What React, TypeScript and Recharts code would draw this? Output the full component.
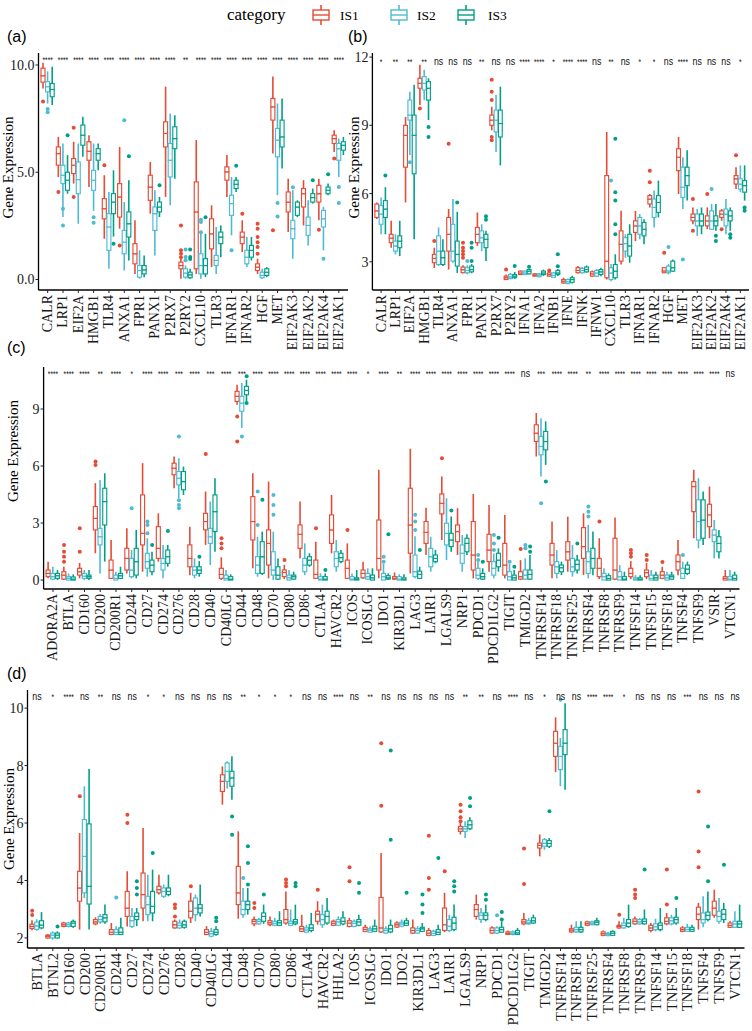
import React from 'react';
import { ComposedChart, Bar, Line, XAxis, YAxis, Label } from 'recharts';

const GROUPS = ['IS1', 'IS2', 'IS3'];
const COLORS = ['#E64B35', '#4DBBD5', '#00A087'];
const SERIF = '"Liberation Serif", "Times New Roman", Times, serif';
const SANS = '"Liberation Sans", Arial, Helvetica, sans-serif';

// ---------------- Panel (a) ----------------
const aCats = ['CALR', 'LRP1', 'EIF2A', 'HMGB1', 'TLR4', 'ANXA1', 'FPR1', 'PANX1', 'P2RX7', 'P2RY2', 'CXCL10', 'TLR3', 'IFNAR1', 'IFNAR2', 'HGF', 'MET', 'EIF2AK3', 'EIF2AK2', 'EIF2AK4', 'EIF2AK1'];
const aSig = ['****', '****', '****', '****', '****', '****', '****', '****', '****', '**', '****', '****', '****', '****', '****', '****', '****', '****', '****', '****'];
const aTicks = [0, 5, 10];
// [min, q1, median, q3, max]
const aIS1 = [[8.9, 9.2, 9.5, 9.85, 10.1], [4.78, 5.33, 5.87, 6.18, 6.65], [4.47, 4.94, 5.33, 5.64, 6.42], [4.31, 5.56, 5.98, 6.42, 6.73], [1.9, 2.83, 3.3, 3.77, 4.86], [2.37, 2.91, 3.85, 4.47, 6.18], [0.26, 0.73, 1.2, 1.67, 2.76], [3.07, 3.69, 4.31, 4.86, 5.48], [3.85, 6.18, 6.81, 7.35, 8.99], [0.03, 0.5, 0.65, 0.81, 0.97], [0.26, 0.5, 3.15, 4.55, 6.5], [0.58, 1.43, 2.13, 2.83, 3.46], [3.85, 4.63, 5.02, 5.25, 5.8], [1.28, 1.67, 1.98, 2.21, 2.76], [0.26, 0.42, 0.58, 0.73, 0.97], [5.87, 7.43, 8.05, 8.44, 9.46], [2.21, 3.15, 3.61, 4.08, 4.7], [2.52, 3.38, 4.0, 4.24, 4.63], [2.76, 3.61, 4.0, 4.39, 4.7], [5.95, 6.34, 6.57, 6.73, 6.96]];
const aIS2 = [[8.2, 8.75, 8.99, 9.22, 9.7], [2.91, 4.47, 4.86, 5.33, 6.34], [2.6, 4.0, 4.66, 5.48, 6.34], [3.2, 4.16, 4.63, 5.09, 6.34], [0.5, 1.36, 2.45, 3.07, 4.08], [0.42, 1.2, 1.74, 2.29, 3.61], [0.03, 0.11, 0.42, 0.65, 1.36], [1.12, 2.29, 3.07, 3.38, 4.16], [3.46, 4.78, 5.56, 6.34, 7.74], [0.03, 0.11, 0.3, 0.5, 0.65], [0.03, 0.26, 0.65, 1.2, 2.13], [0.26, 0.65, 0.89, 1.12, 2.45], [2.06, 2.99, 3.54, 3.93, 4.78], [0.58, 0.73, 1.04, 1.36, 1.98], [0.03, 0.08, 0.19, 0.34, 0.5], [3.93, 5.72, 6.5, 7.04, 8.21], [0.97, 1.9, 2.37, 2.76, 4.16], [1.59, 2.06, 2.52, 2.91, 3.69], [1.36, 2.45, 2.83, 3.22, 3.38], [4.78, 5.56, 6.1, 6.34, 6.57]];
const aIS3 = [[8.13, 8.52, 8.86, 9.14, 9.92], [4.0, 4.16, 4.63, 5.0, 5.8], [5.72, 6.26, 6.73, 7.2, 7.59], [5.09, 5.56, 5.87, 6.1, 6.34], [2.0, 3.07, 3.61, 4.0, 5.09], [0.89, 1.98, 2.6, 3.15, 4.63], [0.11, 0.26, 0.45, 0.65, 1.12], [2.91, 3.15, 3.38, 3.61, 3.85], [4.7, 6.1, 6.57, 7.12, 7.66], [0.03, 0.08, 0.22, 0.34, 0.5], [0.11, 0.26, 0.65, 0.97, 2.13], [1.04, 1.67, 1.98, 2.21, 2.52], [4.08, 4.24, 4.44, 4.63, 4.78], [0.89, 1.04, 1.36, 1.59, 1.98], [0.11, 0.19, 0.34, 0.5, 0.58], [5.17, 6.18, 6.65, 7.43, 8.44], [2.91, 2.99, 3.38, 3.61, 3.69], [3.54, 3.61, 3.82, 4.0, 4.24], [3.93, 4.0, 4.16, 4.31, 4.47], [5.8, 6.03, 6.26, 6.42, 6.65]];
const aOut1 = [[8.3], [4.08], [7.07, 3.85], [], [5.33], [1.59], [], [], [], [2.52, 1.36, 1.2, 1.04], [], [], [], [3.07], [2.6, 2.37, 1.98, 1.74, 1.51, 1.2], [2.29], [], [], [2.32], [5.64]];
const aOut2 = [[7.95, 7.8], [3.3, 2.52], [], [2.9, 2.65], [], [7.43], [], [], [], [1.4, 1.05, 0.9], [2.79, 2.68, 2.2], [], [1.36], [], [], [3.57, 2.94], [4.3], [], [0.97], [4.31, 3.57]];
const aOut3 = [[], [6.73], [], [], [1.67], [5.75], [], [4.39], [], [1.4, 1.05, 0.95], [2.9], [], [5.3], [], [], [], [], [4.63], [4.91], []];

// ---------------- Panel (b) ----------------
const bCats = ['CALR', 'LRP1', 'EIF2A', 'HMGB1', 'TLR4', 'ANXA1', 'FPR1', 'PANX1', 'P2RX7', 'P2RY2', 'IFNA1', 'IFNA2', 'IFNB1', 'IFNE', 'IFNK', 'IFNW1', 'CXCL10', 'TLR3', 'IFNAR1', 'IFNAR2', 'HGF', 'MET', 'EIF2AK3', 'EIF2AK2', 'EIF2AK4', 'EIF2AK1'];
const bSig = ['*', '**', '**', '**', 'ns', 'ns', 'ns', '**', 'ns', 'ns', '****', '****', '*', '****', '****', 'ns', '**', 'ns', '*', '*', 'ns', '****', 'ns', 'ns', 'ns', '*'];
const bTicks = [3, 6, 9, 12];
const bIS1 = [[4.88, 4.95, 5.24, 5.54, 5.61], [3.62, 3.84, 4.04, 4.21, 4.8], [5.61, 7.16, 8.56, 9.0, 9.37], [9.89, 10.63, 10.85, 11.07, 11.66], [2.73, 2.96, 3.15, 3.33, 3.62], [2.66, 3.47, 4.21, 4.95, 5.32], [2.5, 2.52, 2.65, 2.77, 2.85], [3.7, 3.84, 4.21, 4.51, 5.17], [8.78, 9.0, 9.23, 9.45, 9.82], [2.2, 2.22, 2.3, 2.37, 2.44], [2.42, 2.44, 2.51, 2.59, 2.62], [2.34, 2.37, 2.41, 2.47, 2.51], [2.34, 2.37, 2.44, 2.51, 2.55], [2.04, 2.07, 2.15, 2.22, 2.3], [2.48, 2.52, 2.62, 2.74, 2.81], [2.33, 2.37, 2.47, 2.56, 2.62], [2.22, 2.3, 3.03, 6.79, 8.71], [2.88, 3.03, 3.77, 4.36, 5.24], [3.91, 4.29, 4.58, 4.8, 5.24], [5.39, 5.54, 5.76, 5.91, 5.98], [2.52, 2.52, 2.6, 2.74, 2.74], [5.98, 7.01, 7.6, 7.97, 8.49], [4.65, 4.8, 4.95, 5.1, 5.39], [4.43, 4.58, 4.8, 5.02, 5.39], [4.8, 4.95, 5.1, 5.24, 5.32], [6.2, 6.42, 6.65, 6.79, 7.16]];
const bIS2 = [[4.21, 4.65, 5.1, 5.47, 5.83], [3.32, 3.47, 3.7, 3.91, 4.21], [7.7, 9.23, 9.45, 10.11, 10.48], [10.11, 10.55, 10.85, 11.14, 11.44], [2.81, 2.88, 3.47, 4.14, 4.51], [2.96, 3.03, 3.47, 4.65, 5.76], [2.45, 2.52, 2.62, 2.74, 2.85], [3.47, 3.84, 4.06, 4.36, 4.65], [7.83, 8.71, 9.23, 9.67, 10.33], [2.22, 2.27, 2.34, 2.44, 2.51], [2.42, 2.44, 2.51, 2.59, 2.62], [2.32, 2.34, 2.41, 2.47, 2.51], [2.3, 2.32, 2.41, 2.51, 2.55], [2.02, 2.04, 2.12, 2.22, 2.27], [2.48, 2.52, 2.62, 2.71, 2.78], [2.33, 2.37, 2.51, 2.62, 2.68], [2.15, 2.22, 2.51, 2.74, 2.9], [3.18, 3.47, 3.8, 4.06, 4.21], [3.99, 4.21, 4.58, 4.95, 5.1], [4.51, 4.95, 5.39, 5.76, 6.13], [2.45, 2.52, 2.6, 2.81, 2.9], [5.32, 5.83, 6.28, 7.16, 7.6], [4.14, 4.58, 4.8, 5.1, 5.32], [4.43, 4.43, 4.8, 5.24, 5.54], [4.21, 4.58, 5.1, 5.32, 5.76], [6.06, 6.2, 6.42, 6.65, 7.24]];
const bIS3 = [[4.21, 4.95, 5.32, 5.69, 6.28], [3.25, 3.62, 3.91, 4.14, 4.8], [3.99, 6.87, 8.56, 9.45, 10.78], [9.23, 10.11, 10.63, 10.92, 11.07], [2.81, 2.88, 3.18, 3.47, 3.99], [2.51, 2.81, 3.33, 3.91, 5.2], [2.5, 2.56, 2.66, 2.81, 2.9], [3.03, 3.62, 3.99, 4.21, 4.36], [7.24, 8.49, 9.08, 9.67, 10.7], [2.25, 2.3, 2.37, 2.44, 2.55], [2.44, 2.47, 2.59, 2.66, 2.7], [2.38, 2.44, 2.51, 2.59, 2.66], [2.38, 2.44, 2.51, 2.62, 2.68], [2.05, 2.1, 2.22, 2.3, 2.39], [2.52, 2.56, 2.66, 2.77, 2.84], [2.37, 2.44, 2.56, 2.66, 2.74], [2.22, 2.3, 2.59, 2.88, 3.33], [2.96, 3.25, 3.7, 4.21, 4.65], [3.77, 4.14, 4.43, 4.73, 4.87], [4.95, 5.17, 5.61, 5.91, 6.57], [2.55, 2.59, 2.74, 3.03, 3.1], [5.69, 6.35, 6.79, 7.16, 7.9], [4.21, 4.58, 4.8, 5.1, 5.39], [4.36, 4.58, 4.8, 5.02, 5.54], [4.36, 4.8, 5.02, 5.24, 5.39], [5.69, 6.06, 6.35, 6.57, 7.24]];
const bOut1 = [[], [], [], [9.74], [3.91], [8.19], [3.84, 3.62, 3.47, 3.33, 3.18], [], [11.0, 10.48, 10.11, 8.49, 8.34], [2.66], [], [], [2.62], [], [], [], [], [], [], [7.0, 6.5], [3.4], [], [5.76, 4.36], [5.98], [4.43], [7.68]];
const bOut2 = [[], [], [7.38], [], [], [], [3.03], [], [], [], [], [], [], [], [], [], [6.57], [], [], [], [3.65], [3.1], [], [6.2], [], []];
const bOut3 = [[6.79], [], [], [8.93, 8.49], [], [5.61], [3.84, 3.62, 3.03], [5.0, 4.85], [], [2.81], [2.78], [], [3.33, 2.8], [], [], [], [8.41, 6.06, 5.69, 4.65, 4.21], [], [], [], [], [], [], [4.14, 3.91], [4.21, 4.06], [5.39, 5.24]];

// ---------------- Panel (c) ----------------
const cCats = ['ADORA2A', 'BTLA', 'CD160', 'CD200', 'CD200R1', 'CD244', 'CD27', 'CD274', 'CD276', 'CD28', 'CD40', 'CD40LG', 'CD44', 'CD48', 'CD70', 'CD80', 'CD86', 'CTLA4', 'HAVCR2', 'ICOS', 'ICOSLG', 'IDO1', 'KIR3DL1', 'LAG3', 'LAIR1', 'LGALS9', 'NRP1', 'PDCD1', 'PDCD1LG2', 'TIGIT', 'TMIGD2', 'TNFRSF14', 'TNFRSF18', 'TNFRSF25', 'TNFRSF4', 'TNFRSF8', 'TNFRSF9', 'TNFSF14', 'TNFSF15', 'TNFSF18', 'TNFSF4', 'TNFSF9', 'VSIR', 'VTCN1'];
const cSig = ['****', '****', '****', '**', '****', '*', '****', '****', '***', '****', '***', '****', '***', '****', '****', '****', '****', '****', '****', '****', '*', '****', '**', '****', '****', '****', '****', '****', '****', '****', 'ns', '***', '****', '****', '**', '****', '****', '****', '****', '****', '****', '****', '****', 'ns'];
const cTicks = [0, 3, 6, 9];
const cIS1 = [[0.09, 0.18, 0.35, 0.53, 0.97], [0.0, 0.05, 0.26, 0.44, 0.7], [0.09, 0.26, 0.44, 0.62, 0.9], [1.41, 2.64, 3.25, 3.87, 5.1], [0.05, 0.09, 0.53, 1.05, 2.11], [0.35, 0.53, 1.14, 1.67, 2.72], [0.44, 1.85, 2.46, 4.48, 6.15], [0.97, 1.14, 1.67, 2.81, 3.51], [4.83, 5.54, 5.89, 6.15, 6.5], [0.26, 0.7, 1.14, 1.85, 2.81], [1.85, 2.64, 3.08, 3.51, 4.66], [0.0, 0.09, 0.3, 0.62, 1.2], [9.23, 9.4, 9.67, 9.93, 10.28], [0.62, 2.11, 3.08, 4.39, 5.62], [0.09, 0.79, 1.93, 2.64, 5.18], [0.05, 0.18, 0.4, 0.53, 0.8], [1.14, 1.67, 2.41, 2.9, 4.13], [0.05, 0.09, 0.3, 1.05, 2.02], [1.41, 1.93, 2.64, 3.43, 4.48], [0.05, 0.09, 0.62, 1.05, 1.93], [0.05, 0.12, 0.35, 0.53, 0.97], [0.09, 0.53, 1.14, 3.16, 5.8], [0.0, 0.05, 0.09, 0.18, 0.4], [0.35, 1.41, 2.9, 4.83, 6.91], [1.32, 1.93, 2.51, 3.08, 3.81], [2.11, 3.48, 4.04, 4.53, 5.45], [1.32, 2.02, 2.55, 2.9, 3.78], [0.09, 0.53, 1.32, 3.08, 4.53], [0.44, 0.97, 1.58, 2.41, 3.95], [0.09, 0.26, 0.79, 1.93, 3.43], [0.0, 0.05, 0.18, 0.44, 1.05], [6.5, 7.29, 7.73, 8.17, 8.79], [0.09, 0.79, 1.32, 1.93, 3.08], [0.44, 1.05, 1.49, 2.02, 3.34], [0.26, 1.14, 1.76, 2.76, 3.51], [0.05, 0.18, 0.62, 1.14, 2.2], [0.0, 0.05, 0.53, 2.2, 3.29], [0.05, 0.18, 0.35, 0.62, 1.0], [0.05, 0.18, 0.39, 0.53, 0.9], [0.05, 0.09, 0.26, 0.44, 0.7], [0.26, 0.53, 0.97, 1.32, 2.11], [2.2, 3.6, 4.92, 5.18, 5.8], [2.2, 2.81, 3.43, 3.99, 4.92], [0.0, 0.0, 0.09, 0.18, 0.53]];
const cIS2 = [[0.0, 0.05, 0.18, 0.35, 0.7], [0.0, 0.0, 0.09, 0.18, 0.35], [0.0, 0.09, 0.21, 0.35, 0.53], [0.35, 1.85, 2.28, 2.72, 5.27], [0.0, 0.0, 0.09, 0.26, 0.44], [0.09, 0.18, 0.53, 1.14, 1.58], [0.18, 0.62, 0.97, 1.41, 2.2], [0.09, 0.53, 0.88, 1.14, 1.85], [4.31, 5.01, 5.36, 5.71, 6.41], [0.09, 0.26, 0.53, 0.7, 1.14], [0.79, 1.93, 2.28, 2.72, 4.13], [0.0, 0.0, 0.09, 0.26, 0.53], [8.0, 8.88, 9.31, 9.67, 10.37], [0.18, 0.35, 0.79, 1.23, 2.28], [0.0, 0.26, 0.53, 1.49, 2.55], [0.0, 0.0, 0.12, 0.26, 0.53], [0.26, 0.44, 0.79, 1.14, 1.93], [0.0, 0.0, 0.05, 0.18, 0.35], [0.44, 0.7, 1.14, 1.49, 2.11], [0.0, 0.0, 0.05, 0.18, 0.35], [0.0, 0.05, 0.18, 0.35, 0.62], [0.0, 0.0, 0.18, 0.35, 0.85], [0.0, 0.0, 0.05, 0.18, 0.3], [0.09, 0.18, 0.44, 1.32, 2.3], [0.44, 0.7, 1.23, 1.67, 2.28], [1.05, 1.85, 2.46, 2.99, 4.31], [0.44, 0.88, 1.41, 1.85, 2.37], [0.0, 0.09, 0.26, 0.62, 0.95], [0.09, 0.26, 0.62, 0.97, 1.4], [0.0, 0.0, 0.18, 0.44, 0.85], [0.0, 0.05, 0.26, 0.53, 1.14], [5.45, 6.59, 7.03, 7.56, 8.52], [0.09, 0.35, 0.7, 0.97, 1.58], [0.18, 0.44, 0.7, 1.14, 1.85], [0.09, 0.35, 0.97, 1.49, 2.91], [0.0, 0.0, 0.18, 0.35, 0.62], [0.0, 0.0, 0.18, 0.44, 0.79], [0.0, 0.0, 0.05, 0.12, 0.26], [0.0, 0.0, 0.09, 0.26, 0.53], [0.0, 0.0, 0.12, 0.26, 0.44], [0.05, 0.09, 0.35, 0.62, 0.97], [1.67, 2.11, 3.08, 4.22, 5.36], [1.14, 2.02, 2.37, 2.64, 3.16], [0.0, 0.0, 0.05, 0.18, 0.53]];
const cIS3 = [[0.0, 0.09, 0.23, 0.35, 0.53], [0.0, 0.0, 0.05, 0.16, 0.3], [0.0, 0.09, 0.18, 0.26, 0.53], [0.97, 2.9, 4.13, 4.83, 5.62], [0.05, 0.09, 0.23, 0.35, 0.7], [0.09, 0.26, 0.97, 1.67, 2.64], [0.26, 0.44, 0.79, 1.05, 1.49], [0.7, 0.88, 1.23, 1.58, 1.85], [4.48, 4.75, 5.18, 5.71, 5.97], [0.18, 0.35, 0.53, 0.7, 1.0], [1.49, 2.55, 3.6, 4.48, 5.36], [0.0, 0.0, 0.05, 0.18, 0.3], [9.4, 9.75, 9.98, 10.19, 10.54], [0.26, 0.35, 1.23, 2.02, 2.55], [0.0, 0.05, 0.26, 0.7, 1.14], [0.0, 0.05, 0.18, 0.26, 0.44], [0.7, 0.79, 1.05, 1.23, 1.41], [0.0, 0.0, 0.05, 0.18, 0.35], [0.88, 0.97, 1.18, 1.41, 1.58], [0.0, 0.0, 0.05, 0.12, 0.53], [0.0, 0.0, 0.12, 0.26, 0.62], [0.0, 0.05, 0.12, 0.23, 0.35], [0.0, 0.0, 0.04, 0.12, 0.3], [0.05, 0.09, 0.3, 0.47, 0.7], [0.88, 0.97, 1.14, 1.32, 1.58], [1.49, 1.76, 2.11, 2.46, 3.34], [1.32, 1.49, 1.93, 2.2, 2.41], [0.0, 0.05, 0.18, 0.35, 0.62], [0.44, 0.7, 1.05, 1.41, 1.67], [0.0, 0.0, 0.12, 0.26, 0.53], [0.0, 0.05, 0.3, 0.53, 1.32], [6.06, 6.85, 7.29, 7.82, 8.35], [0.26, 0.44, 0.65, 0.79, 0.97], [0.35, 0.53, 0.83, 1.05, 1.32], [0.26, 0.62, 1.14, 1.67, 2.55], [0.0, 0.0, 0.09, 0.23, 0.35], [0.0, 0.0, 0.05, 0.18, 0.44], [0.0, 0.0, 0.04, 0.12, 0.26], [0.0, 0.0, 0.12, 0.26, 0.44], [0.0, 0.05, 0.18, 0.26, 0.44], [0.26, 0.35, 0.58, 0.79, 0.97], [1.85, 2.2, 3.16, 4.22, 4.66], [1.14, 1.49, 1.93, 2.28, 2.64], [0.0, 0.0, 0.09, 0.26, 0.44]];
const cOut1 = [[], [1.85, 1.49, 1.23, 0.97], [2.72, 1.49], [6.24, 6.06], [], [], [], [], [], [], [6.63], [2.2, 1.93, 1.67], [8.61, 7.29], [], [], [1.05], [], [2.72], [], [2.64], [], [], [], [], [], [6.41], [], [], [], [], [1.63], [], [], [], [], [3.08], [], [1.58, 1.41, 1.23], [1.32, 1.05], [0.95], [], [], [], []];
const cOut2 = [[], [], [], [], [], [3.78], [3.08, 2.9, 2.46], [], [7.56, 4.2, 3.95, 3.78], [], [], [], [7.56], [4.66, 2.9], [4.48, 3.95, 3.43], [], [], [], [], [], [], [1.23, 0.97], [], [3.43, 3.08, 2.64], [], [], [], [1.32, 1.05], [2.37, 1.93, 1.58], [0.97], [1.85, 1.67], [4.04], [], [], [3.87, 3.6, 3.34], [], [], [], [], [], [1.32], [], [], []];
const cOut3 = [[], [], [], [], [], [], [1.85], [2.58], [], [1.23], [], [], [10.72, 9.31], [4.22], [], [], [], [0.53], [], [], [], [2.41], [], [1.58], [], [3.66], [], [0.97], [2.23], [0.7], [1.76, 1.49], [5.18], [], [1.93], [], [], [], [], [], [], [], [], [], []];

// ---------------- Panel (d) ----------------
const dCats = ['BTLA', 'BTNL2', 'CD160', 'CD200', 'CD200R1', 'CD244', 'CD27', 'CD274', 'CD276', 'CD28', 'CD40', 'CD40LG', 'CD44', 'CD48', 'CD70', 'CD80', 'CD86', 'CTLA4', 'HAVCR2', 'HHLA2', 'ICOS', 'ICOSLG', 'IDO1', 'IDO2', 'KIR3DL1', 'LAG3', 'LAIR1', 'LGALS9', 'NRP1', 'PDCD1', 'PDCD1LG2', 'TIGIT', 'TMIGD2', 'TNFRSF14', 'TNFRSF18', 'TNFRSF25', 'TNFRSF4', 'TNFRSF8', 'TNFRSF9', 'TNFSF14', 'TNFSF15', 'TNFSF18', 'TNFSF4', 'TNFSF9', 'VTCN1'];
const dSig = ['ns', '*', '****', 'ns', '**', 'ns', 'ns', '*', '*', 'ns', 'ns', 'ns', 'ns', '**', '*', '*', '*', 'ns', 'ns', '****', 'ns', '**', 'ns', 'ns', 'ns', 'ns', 'ns', '**', '**', 'ns', '****', 'ns', '*', 'ns', 'ns', '****', '****', '*', 'ns', 'ns', 'ns', '***', 'ns', 'ns', 'ns'];
const dTicks = [2, 4, 6, 8, 10];
const dIS1 = [[2.27, 2.33, 2.4, 2.48, 2.62], [1.98, 2.0, 2.06, 2.1, 2.13], [2.37, 2.4, 2.46, 2.52, 2.56], [2.29, 3.28, 3.74, 4.32, 5.65], [2.44, 2.49, 2.56, 2.64, 2.72], [2.1, 2.12, 2.2, 2.29, 2.52], [2.4, 2.75, 3.04, 3.62, 4.32], [2.58, 3.04, 3.51, 4.26, 5.83], [3.51, 3.57, 3.68, 3.8, 4.2], [2.32, 2.35, 2.46, 2.58, 2.64], [2.52, 2.7, 2.93, 3.28, 3.57], [2.1, 2.12, 2.2, 2.29, 2.41], [6.64, 7.1, 7.45, 7.68, 7.97], [2.67, 3.16, 3.57, 4.49, 5.71], [2.41, 2.49, 2.58, 2.64, 2.75], [2.41, 2.46, 2.53, 2.6, 2.75], [2.46, 2.52, 2.64, 2.99, 3.62], [2.2, 2.23, 2.32, 2.4, 2.81], [2.46, 2.58, 2.83, 2.93, 3.28], [2.41, 2.44, 2.51, 2.58, 2.64], [2.37, 2.4, 2.52, 2.6, 2.7], [2.2, 2.23, 2.3, 2.37, 2.46], [2.17, 2.21, 2.35, 3.41, 4.96], [2.35, 2.38, 2.46, 2.52, 2.58], [2.14, 2.17, 2.26, 2.35, 2.64], [2.06, 2.09, 2.17, 2.26, 2.35], [2.2, 2.26, 2.46, 3.04, 3.57], [5.6, 5.71, 5.8, 5.88, 6.0], [2.64, 2.75, 2.99, 3.16, 3.51], [2.14, 2.17, 2.26, 2.35, 2.41], [2.1, 2.12, 2.16, 2.21, 2.26], [2.44, 2.49, 2.56, 2.64, 2.87], [4.84, 5.13, 5.22, 5.3, 5.6], [7.77, 8.32, 8.78, 9.19, 9.68], [2.17, 2.21, 2.27, 2.32, 2.46], [2.41, 2.44, 2.5, 2.56, 2.6], [2.06, 2.09, 2.15, 2.21, 2.26], [2.32, 2.35, 2.4, 2.44, 2.58], [2.46, 2.49, 2.58, 2.66, 2.75], [2.2, 2.26, 2.35, 2.44, 2.52], [2.44, 2.49, 2.58, 2.7, 2.87], [2.2, 2.23, 2.29, 2.35, 2.41], [2.29, 2.64, 2.83, 3.07, 3.22], [2.7, 2.79, 3.04, 3.28, 3.68], [2.35, 2.37, 2.44, 2.52, 2.58]];
const dIS2 = [[2.25, 2.3, 2.42, 2.55, 2.65], [1.94, 2.0, 2.1, 2.17, 2.23], [2.37, 2.4, 2.46, 2.52, 2.56], [3.39, 3.57, 4.84, 6.12, 7.28], [2.49, 2.56, 2.64, 2.75, 2.83], [2.1, 2.12, 2.2, 2.29, 2.41], [2.35, 2.4, 2.6, 2.75, 3.04], [2.58, 2.81, 3.16, 3.45, 4.2], [3.39, 3.45, 3.62, 3.74, 3.86], [2.32, 2.35, 2.44, 2.52, 2.64], [2.58, 2.81, 3.04, 3.39, 3.51], [2.02, 2.06, 2.15, 2.23, 2.35], [7.2, 7.45, 7.8, 8.09, 8.15], [2.7, 2.81, 2.99, 3.28, 3.74], [2.46, 2.49, 2.58, 2.64, 2.7], [2.41, 2.44, 2.51, 2.58, 2.7], [2.41, 2.44, 2.51, 2.58, 2.99], [2.17, 2.2, 2.28, 2.35, 2.46], [2.35, 2.46, 2.64, 2.81, 3.16], [2.41, 2.44, 2.56, 2.64, 2.75], [2.37, 2.4, 2.51, 2.58, 2.64], [2.2, 2.2, 2.27, 2.32, 2.41], [2.14, 2.17, 2.26, 2.32, 2.41], [2.37, 2.41, 2.49, 2.55, 2.64], [2.14, 2.17, 2.26, 2.32, 2.41], [2.06, 2.09, 2.16, 2.23, 2.29], [2.2, 2.26, 2.41, 2.64, 2.81], [5.48, 5.71, 5.8, 5.88, 6.06], [2.52, 2.64, 2.79, 2.87, 3.04], [2.14, 2.17, 2.26, 2.35, 2.41], [2.09, 2.12, 2.16, 2.21, 2.26], [2.46, 2.49, 2.53, 2.6, 2.7], [5.07, 5.19, 5.3, 5.42, 5.48], [7.28, 7.86, 8.32, 8.67, 8.96], [2.17, 2.21, 2.29, 2.37, 2.58], [2.44, 2.46, 2.51, 2.56, 2.6], [2.06, 2.08, 2.13, 2.17, 2.2], [2.32, 2.35, 2.44, 2.52, 2.7], [2.46, 2.49, 2.56, 2.64, 2.7], [2.23, 2.29, 2.39, 2.49, 2.67], [2.44, 2.49, 2.6, 2.7, 2.81], [2.23, 2.23, 2.3, 2.37, 2.49], [2.37, 2.52, 2.64, 2.87, 3.45], [2.49, 2.58, 2.75, 2.93, 3.39], [2.35, 2.37, 2.49, 2.58, 2.93]];
const dIS3 = [[2.3, 2.35, 2.45, 2.6, 2.9], [1.98, 2.0, 2.1, 2.17, 2.23], [2.35, 2.4, 2.52, 2.58, 2.64], [2.29, 3.18, 3.8, 5.97, 7.88], [2.49, 2.56, 2.7, 2.81, 3.16], [2.1, 2.12, 2.2, 2.35, 2.7], [2.41, 2.64, 2.75, 2.87, 3.04], [2.58, 2.87, 3.1, 3.62, 4.38], [3.45, 3.51, 3.62, 3.74, 4.2], [2.32, 2.37, 2.46, 2.58, 2.64], [2.75, 2.87, 3.04, 3.16, 3.86], [2.08, 2.12, 2.2, 2.29, 2.41], [6.81, 7.28, 7.57, 7.8, 8.32], [2.81, 2.99, 3.16, 3.28, 3.74], [2.49, 2.58, 2.75, 2.87, 3.16], [2.41, 2.44, 2.53, 2.6, 2.93], [2.44, 2.49, 2.56, 2.64, 3.16], [2.2, 2.26, 2.35, 2.46, 2.87], [2.46, 2.52, 2.75, 2.93, 3.39], [2.44, 2.49, 2.58, 2.7, 2.93], [2.41, 2.44, 2.56, 2.64, 2.81], [2.2, 2.23, 2.32, 2.41, 2.64], [2.17, 2.21, 2.32, 2.44, 2.64], [2.41, 2.44, 2.52, 2.6, 2.7], [2.2, 2.23, 2.32, 2.37, 2.52], [2.12, 2.12, 2.2, 2.29, 2.46], [2.23, 2.29, 2.52, 2.72, 3.16], [5.75, 5.8, 5.94, 6.08, 6.2], [2.58, 2.64, 2.79, 2.87, 3.16], [2.17, 2.2, 2.29, 2.37, 2.58], [2.1, 2.12, 2.18, 2.26, 2.35], [2.49, 2.52, 2.6, 2.7, 2.81], [5.13, 5.19, 5.29, 5.39, 5.48], [7.16, 8.38, 8.78, 9.25, 10.17], [2.17, 2.21, 2.29, 2.37, 2.58], [2.44, 2.46, 2.55, 2.6, 2.7], [2.09, 2.09, 2.17, 2.23, 2.26], [2.35, 2.4, 2.52, 2.64, 3.16], [2.46, 2.49, 2.58, 2.66, 2.99], [2.23, 2.29, 2.44, 2.52, 3.04], [2.46, 2.52, 2.64, 2.72, 3.04], [2.21, 2.23, 2.3, 2.37, 2.46], [2.58, 2.64, 2.79, 2.9, 3.62], [2.52, 2.64, 2.83, 2.99, 3.22], [2.35, 2.37, 2.49, 2.58, 3.16]];
const dOut1 = [[2.8, 2.95], [], [], [6.93], [], [], [6.29, 6.0], [], [], [3.16, 3.04, 2.75], [3.8], [], [], [], [3.22, 3.04], [], [4.03, 3.91, 3.8], [], [3.68], [], [4.46, 3.97], [], [8.78, 6.6], [], [], [5.56, 4.09, 3.68], [4.32], [6.64, 6.41, 6.2, 6.06], [], [], [], [5.11, 3.88], [], [], [], [], [], [2.81], [3.68, 3.51, 3.39], [], [4.38, 3.16], [], [7.1, 5.01, 4.46], [], []];
const dOut2 = [[], [], [], [], [], [3.41], [], [], [], [], [], [], [], [4.09], [], [], [], [], [], [], [], [], [], [], [], [], [], [], [], [2.79], [], [], [], [10.29], [], [], [], [], [], [], [], [], [], [], []];
const dOut3 = [[], [2.4], [], [], [], [], [3.97, 3.74, 3.51], [4.96], [], [], [], [2.7, 2.58], [6.23, 5.59], [5.19, 4.61, 3.86], [3.51], [], [3.91, 3.8], [], [], [], [3.91, 3.57], [], [8.52, 5.42], [3.57], [3.51, 3.16, 2.87], [4.78], [3.97, 3.8, 3.62], [6.87, 6.58], [3.51, 3.33], [2.9, 2.64], [], [], [6.41], [], [], [], [], [], [4.38], [], [3.39], [], [5.88, 3.97], [4.55], []];

// ------------------------------------------------------------
type Row = Record<string, string | number>;

function buildRows(cats: string[], sig: string[], stats: number[][][], outs: number[][][]): Row[] {
  return cats.map((cat, i) => {
    const row: Row = { cat, sig: sig[i] };
    stats.forEach((s, g) => {
      const [mn, q1, md, q3, mx] = s[i];
      row[`base${g}`] = mn;
      row[`wlo${g}`] = q1 - mn;
      row[`blo${g}`] = md - q1;
      row[`bhi${g}`] = q3 - md;
      row[`whi${g}`] = mx - q3;
      (outs[g][i] || []).forEach((v, k) => {
        row[`out${g}_${k}`] = v;
      });
    });
    return row;
  });
}

const EmptyShape = () => <g />;

const makeWhisker = (color: string) => (p: any) => {
  const { x, y, width, height } = p;
  if (!(height > 0)) return <g />;
  const cx = x + width / 2;
  return <line x1={cx} x2={cx} y1={y} y2={y + height} stroke={color} strokeWidth={1.6} />;
};

const makeBox = (color: string) => (p: any) => {
  const { x, y, width, height } = p;
  return <rect x={x} y={y} width={width} height={Math.max(0, height || 0)} fill="#ffffff" stroke={color} strokeWidth={1.15} />;
};

const makeOutDot = (g: number, dx: number) => (p: any) => {
  const key = `o${g}-${p.index}-${p.dataKey}`;
  if (p.value == null || p.cy == null || Number.isNaN(p.cy)) return <g key={key} />;
  return <circle key={key} cx={p.cx + dx} cy={p.cy} r={2} fill={COLORS[g]} stroke="none" />;
};

// Category tick: rotated label below the axis, and the significance mark at the top of the panel
const makeCatTick = (fontSize: number, cats: string[], sig: string[], plotH: number, sigDy: number, tickOff: number) => (p: any) => {
  const { x, y, payload } = p;
  const idx = cats.indexOf(payload.value);
  const s = idx >= 0 ? sig[idx] : '';
  const sy = y - tickOff - plotH + sigDy;
  const isStar = s.indexOf('*') >= 0;
  return (
    <g>
      <text x={x} y={y} transform={`rotate(-90 ${x} ${y})`} textAnchor="end" dominantBaseline="central" fontFamily={SERIF} fontSize={fontSize} fill="#1a1a1a">
        {payload.value}
      </text>
      <text
        transform={`translate(${x} ${sy}) scale(${isStar ? 0.7 : 0.8} 1)`}
        textAnchor="middle"
        fontFamily={SANS}
        fontSize={isStar ? 9.5 : 11}
        fill="#111"
      >
        {s}
      </text>
    </g>
  );
};

type PanelProps = {
  cats: string[];
  sig: string[];
  stats: number[][][];
  outs: number[][][];
  ticks: number[];
  decimals: number;
  domain: [number, number];
  left: number;
  top: number;
  width: number;
  height: number;
  marginTop: number;
  marginRight: number;
  yWidth: number;
  xHeight: number;
  barSize: number;
  barGap: number;
  sigDy: number;
  titleX: number;
  titleDy: number;
  catFont: number;
};

function Panel(pp: PanelProps) {
  const rows = buildRows(pp.cats, pp.sig, pp.stats, pp.outs);
  const pitch = pp.barSize + pp.barGap;
  const plotH = pp.height - pp.marginTop - pp.xHeight;
  const maxOut = pp.outs.map((o) => o.reduce((m, a) => Math.max(m, a.length), 0));
  const series: React.ReactNode[] = [];
  pp.stats.forEach((_, g) => {
    const sid = `stack${g}`;
    series.push(<Bar key={`base${g}`} dataKey={`base${g}`} stackId={sid} shape={EmptyShape} isAnimationActive={false} />);
    series.push(<Bar key={`wlo${g}`} dataKey={`wlo${g}`} stackId={sid} shape={makeWhisker(COLORS[g])} isAnimationActive={false} />);
    series.push(<Bar key={`blo${g}`} dataKey={`blo${g}`} stackId={sid} shape={makeBox(COLORS[g])} isAnimationActive={false} />);
    series.push(<Bar key={`bhi${g}`} dataKey={`bhi${g}`} stackId={sid} shape={makeBox(COLORS[g])} isAnimationActive={false} />);
    series.push(<Bar key={`whi${g}`} dataKey={`whi${g}`} stackId={sid} shape={makeWhisker(COLORS[g])} isAnimationActive={false} />);
  });
  pp.stats.forEach((_, g) => {
    for (let k = 0; k < maxOut[g]; k++) {
      series.push(
        <Line
          key={`out${g}_${k}`}
          dataKey={`out${g}_${k}`}
          stroke="none"
          strokeWidth={0}
          dot={makeOutDot(g, (g - 1) * pitch)}
          activeDot={false}
          isAnimationActive={false}
          connectNulls={false}
        />
      );
    }
  });
  const titleContent = (lp: any) => {
    const vb = lp.viewBox || { x: 0, y: 0, width: 0, height: 0 };
    const tx = vb.x + pp.titleX;
    const ty = vb.y + vb.height / 2 + pp.titleDy;
    return (
      <text x={tx} y={ty} transform={`rotate(-90 ${tx} ${ty})`} textAnchor="middle" dominantBaseline="central" fontFamily={SERIF} fontSize={15} fill="#000">
        Gene Expression
      </text>
    );
  };
  return (
    <div style={{ position: 'absolute', left: pp.left, top: pp.top }}>
      <ComposedChart
        width={pp.width}
        height={pp.height}
        data={rows}
        margin={{ top: pp.marginTop, right: pp.marginRight, bottom: 0, left: 0 }}
        barSize={pp.barSize}
        barGap={pp.barGap}
      >
        <XAxis
          dataKey="cat"
          type="category"
          interval={0}
          padding={{ left: 1.5, right: 1.5 }}
          height={pp.xHeight}
          tickSize={3}
          tickMargin={2}
          axisLine={{ stroke: '#000', strokeWidth: 1.3 }}
          tickLine={{ stroke: '#222' }}
          tick={makeCatTick(pp.catFont, pp.cats, pp.sig, plotH, pp.sigDy, 5)}
        />
        <YAxis
          type="number"
          domain={pp.domain}
          allowDataOverflow
          ticks={pp.ticks}
          interval={0}
          width={pp.yWidth}
          tickSize={3}
          tickMargin={1}
          axisLine={{ stroke: '#000', strokeWidth: 1.3 }}
          tickLine={{ stroke: '#222' }}
          tick={{ fontFamily: SERIF, fontSize: 14, fill: '#1a1a1a' }}
          tickFormatter={(v: number) => v.toFixed(pp.decimals)}
        >
          <Label content={titleContent} />
        </YAxis>
        {series}
      </ComposedChart>
    </div>
  );
}

function Overlay() {
  const keyX = [313, 391, 458];
  const labelX = [340, 417, 488];
  return (
    <svg width={752} height={1031} style={{ position: 'absolute', left: 0, top: 0, pointerEvents: 'none' }}>
      <text x={227} y={19.5} fontFamily={SERIF} fontSize={17} fill="#000">category</text>
      {GROUPS.map((g, i) => {
        const bx = keyX[i];
        const c = COLORS[i];
        return (
          <g key={g}>
            <line x1={bx + 8} x2={bx + 8} y1={5} y2={10} stroke={c} strokeWidth={1.6} />
            <line x1={bx + 8} x2={bx + 8} y1={20} y2={25} stroke={c} strokeWidth={1.6} />
            <rect x={bx} y={10} width={16} height={10} fill="#fff" stroke={c} strokeWidth={1.4} />
            <line x1={bx} x2={bx + 16} y1={15} y2={15} stroke={c} strokeWidth={1.4} />
            <text x={labelX[i]} y={19.5} fontFamily={SERIF} fontSize={13.5} fill="#000">{g}</text>
          </g>
        );
      })}
      <text x={7} y={42} fontFamily={SANS} fontSize={16} fill="#000">(a)</text>
      <text x={348} y={42} fontFamily={SANS} fontSize={16} fill="#000">(b)</text>
      <text x={7} y={353} fontFamily={SANS} fontSize={16} fill="#000">(c)</text>
      <text x={7} y={679} fontFamily={SANS} fontSize={16} fill="#000">(d)</text>
    </svg>
  );
}

export default function App() {
  return (
    <div style={{ position: 'absolute', left: 0, top: 0, width: 752, height: 1031, background: '#fff', overflow: 'hidden' }}>
      <Overlay />
      <Panel
        cats={aCats} sig={aSig} stats={[aIS1, aIS2, aIS3]} outs={[aOut1, aOut2, aOut3]}
        ticks={aTicks} decimals={1} domain={[-0.49, 10.56]}
        left={0} top={45} width={352} height={307} marginTop={8} marginRight={4}
        yWidth={38.5} xHeight={62} barSize={4} barGap={0.6} sigDy={9.5}
        titleX={8} titleDy={-4} catFont={14}
      />
      <Panel
        cats={bCats} sig={bSig} stats={[bIS1, bIS2, bIS3]} outs={[bOut1, bOut2, bOut3]}
        ticks={bTicks} decimals={0} domain={[1.76, 12.18]}
        left={345} top={45} width={407} height={307} marginTop={8} marginRight={3}
        yWidth={27.4} xHeight={62} barSize={3.8} barGap={0.5} sigDy={11.5}
        titleX={9} titleDy={-4} catFont={14}
      />
      <Panel
        cats={cCats} sig={cSig} stats={[cIS1, cIS2, cIS3]} outs={[cOut1, cOut2, cOut3]}
        ticks={cTicks} decimals={0} domain={[-0.47, 11.21]}
        left={0} top={355} width={745} height={309} marginTop={12} marginRight={5.5}
        yWidth={43.6} xHeight={75} barSize={4} barGap={0.7} sigDy={9.5}
        titleX={12.5} titleDy={-27} catFont={14}
      />
      <Panel
        cats={dCats} sig={dSig} stats={[dIS1, dIS2, dIS3]} outs={[dOut1, dOut2, dOut3]}
        ticks={dTicks} decimals={0} domain={[1.65, 10.63]}
        left={0} top={680} width={750} height={350} marginTop={10} marginRight={5.5}
        yWidth={27.5} xHeight={82} barSize={4} barGap={0.75} sigDy={10}
        titleX={9} titleDy={0} catFont={14.5}
      />
    </div>
  );
}
